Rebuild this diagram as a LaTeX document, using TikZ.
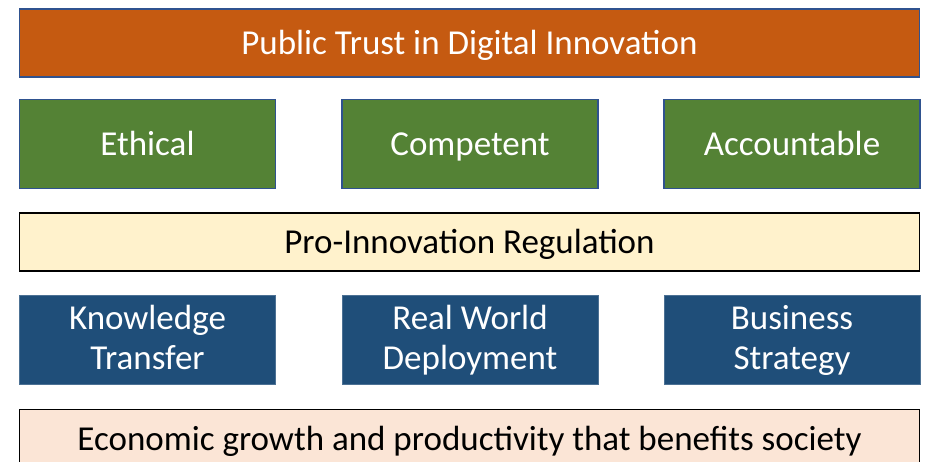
\documentclass[tikz,border=0pt]{standalone}
\usepackage{fontspec}
\setmainfont{Carlito}
\definecolor{orng}{HTML}{C55A11}
\definecolor{grn}{HTML}{548235}
\definecolor{ylw}{HTML}{FFF2CC}
\definecolor{blu}{HTML}{1F4E79}
\definecolor{pch}{HTML}{FBE5D6}
\definecolor{edge}{HTML}{2F528F}
\newcommand{\myln}{\vphantom{Kdg}}
\tikzset{
  box/.style={rectangle, inner sep=0pt, align=center, font=\fontsize{35}{40}\selectfont},
  oneline/.style={text height=22.5pt, text depth=0pt},
  darkbox/.style={box, text=white, draw=edge, line width=1.6pt},
  lightbox/.style={box, oneline, text=black, draw=black, line width=1.8pt},
  bluebox/.style={darkbox, fill=blu, draw=blu!80!white, line width=0.8pt, minimum width=256pt, minimum height=89pt},
  greenbox/.style={darkbox, oneline, fill=grn, minimum width=256pt, minimum height=89pt},
}
\begin{document}
\begin{tikzpicture}[x=1pt,y=-1pt]
\useasboundingbox (0,0) rectangle (925,462);
\clip (0,0) rectangle (925,462);
\node[darkbox, oneline, fill=orng, minimum width=900pt, minimum height=68pt] (top) at (469.5,43) {Public Trust in Digital Innovation};
\node[greenbox] (eth) at (147.5,144) {Ethical};
\node[greenbox] (comp) at (470,144) {Competent};
\node[greenbox] (acc) at (792,144) {Accountable};
\node[lightbox, fill=ylw, minimum width=900pt, minimum height=58pt] (reg) at (469.5,242) {Pro-Innovation Regulation};
\node[bluebox] (kt) at (147.5,340) {\myln Knowledge\\\myln Transfer};
\node[bluebox] (rwd) at (470,340) {\myln Real World\\\myln Deployment};
\node[bluebox] (bs) at (792,340) {\myln Business\\\myln Strategy};
\node[lightbox, fill=pch, minimum width=900pt, minimum height=60pt] (eco) at (469.5,439.5) {Economic growth and productivity that benefits society};
\end{tikzpicture}
\end{document}
